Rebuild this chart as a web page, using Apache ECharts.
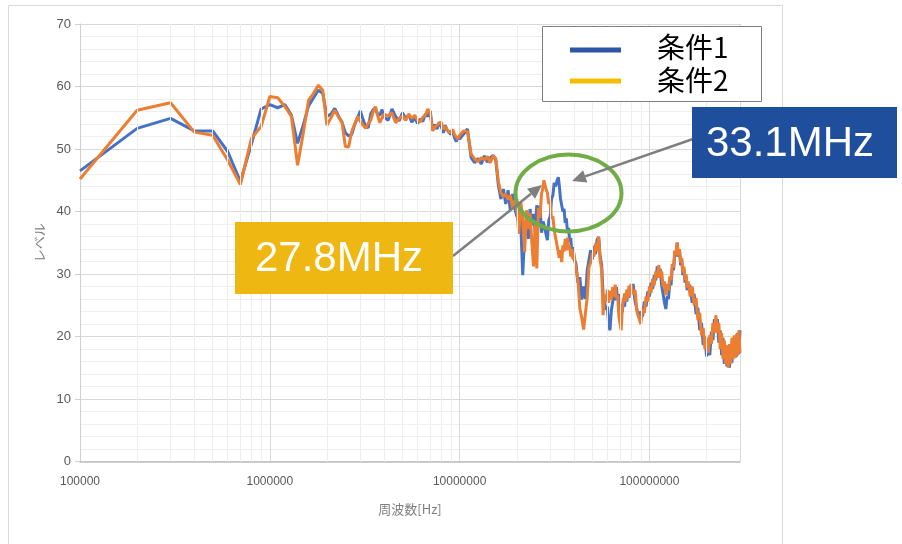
<!DOCTYPE html>
<html>
<head>
<meta charset="utf-8">
<script src="https://cdn.jsdelivr.net/npm/echarts@6/dist/echarts.min.js"></script>
<style>
  html, body { margin: 0; padding: 0; background: #ffffff; }
  #chart { width: 902px; height: 544px; }
</style>
</head>
<body>
<div id="chart"></div>
<script>
// Measurement frequencies in MHz (shared by both conditions)
const freqMHz = [
  0.1, 0.2, 0.3, 0.4, 0.5, 0.6, 0.7, 0.8, 0.9, 1.0, 1.1, 1.2, 1.3, 1.4,
  1.5, 1.6, 1.7, 1.8, 1.9, 2.0, 2.1, 2.2, 2.3, 2.4, 2.5, 2.6, 2.7, 2.8, 2.9, 3.0,
  3.1, 3.2, 3.3, 3.4, 3.5, 3.6, 3.7, 3.8, 3.9, 4.0,
  4.2, 4.4, 4.6, 4.8, 5.0, 5.2, 5.4, 5.6, 5.8, 6.0, 6.2, 6.4, 6.6, 6.8, 7.0,
  7.2, 7.4, 7.6, 7.8, 8.0, 8.2, 8.4, 8.6, 8.8, 9.0, 9.2, 9.4, 9.6, 9.8, 10,
  10.5, 11, 11.5, 12, 12.5, 13, 13.5, 14, 14.5, 15, 15.5, 16, 16.5, 17, 17.5,
  18, 18.5, 19, 19.5, 20,
  20.5, 21, 21.5, 22, 22.5, 23, 23.5, 24, 24.5, 25, 25.5, 26, 26.5, 27, 27.5,
  27.8, 28.5, 29, 29.5, 30, 30.5, 31, 31.5, 32, 32.5, 33.1, 33.5, 34, 34.5, 35,
  35.5, 36, 36.5, 37, 37.5, 38, 38.5, 39, 39.5, 40,
  41, 42, 43, 44, 45, 46, 47, 48, 49, 50, 51, 52, 53, 54, 55, 56, 57, 58, 59, 60,
  61, 62, 63, 64, 65, 66, 67, 68, 69, 70, 71, 72, 73, 74, 75, 76, 77, 78, 79, 80,
  82, 84, 86, 88, 90, 92, 94, 96, 98, 100, 102, 104, 106, 108, 110, 112, 114, 116, 118, 120,
  122, 124, 126, 128, 130, 132, 134, 136, 138, 140, 142, 144, 146, 148, 150, 152, 154, 156, 158, 160,
  164, 168, 172, 176, 180, 184, 188, 192, 196, 200, 204, 208, 212, 216, 220, 224, 228, 232, 236, 240,
  244, 248, 252, 256, 260, 264, 268, 272, 276, 280, 284, 288, 292, 296, 300
];

// 条件1 levels
const cond1 = [
  46.5, 53.3, 54.9, 52.9, 52.9, 49.6, 44.8, 50.8, 56.4, 57.1, 56.6, 57.1, 55.4, 50.9,
  53.8, 56.9, 58.2, 59.4, 58.9, 55.2, 55.6, 56.5, 55.3, 54.3, 52.6, 52.1, 52.3, 53.9, 55.0, 56.1,
  54.7, 53.6, 53.4, 55.6, 56.3, 56.5, 55.6, 55.4, 56.3, 55.1,
  54.6, 56.4, 55.2, 54.5, 55.8, 54.9, 55.5, 54.3, 55.0, 54.1, 54.8, 54.4, 55.6, 55.2, 56.1,
  53.1, 53.9, 53.2, 54.3, 53.6, 52.6, 53.8, 53.0, 52.8, 52.3, 52.9, 51.8, 51.2, 52.0, 51.6,
  52.4, 53.2, 48.6, 47.8, 48.5, 47.6, 48.9, 47.9, 48.6, 49.0, 48.2, 44.2, 42.0, 43.6, 41.2,
  43.4, 40.2, 42.8, 40.6, 39.2,
  40.5, 38.0, 29.8, 36.2, 38.4, 35.6, 40.4, 37.8, 39.6, 36.8, 41.0, 38.2, 40.9, 36.6, 38.4,
  38.0, 36.4, 35.4, 38.6, 39.2, 42.0, 42.6, 44.6, 44.0, 44.8, 45.5, 44.2, 42.0, 41.8, 40.0,
  40.4, 38.2, 38.9, 36.6, 37.4, 35.2, 35.8, 33.4, 34.3, 32.4,
  31.7, 28.6, 29.5, 25.9, 28.0, 26.0, 30.6, 30.7, 33.8, 32.3, 34.5, 33.2, 35.5, 35.9, 32.8, 31.5, 26.7, 26.7, 24.3, 24.8,
  21.8, 21.0, 24.2, 24.1, 26.7, 25.8, 27.9, 25.9, 26.8, 24.2, 25.1, 23.9, 26.1, 24.8, 26.9, 25.6, 27.5, 26.2, 28.1, 26.9,
  28.4, 25.6, 25.8, 23.0, 24.0, 23.2, 25.6, 24.8, 27.2, 26.4, 28.6, 27.6, 29.8, 29.0, 31.2, 30.0, 30.8, 28.2, 28.4, 25.4,
  24.4, 26.4, 26.0, 28.6, 28.2, 31.0, 30.6, 33.4, 32.8, 35.0, 32.8, 33.8, 31.4, 32.2, 29.8, 30.8, 28.6, 29.6, 27.4, 28.4,
  28.0, 25.4, 26.8, 23.6, 24.6, 21.0, 22.2, 18.6, 20.0, 16.8, 18.8, 17.0, 20.8, 19.4, 22.8, 21.0, 22.8, 19.0, 21.0, 17.0,
  19.8, 15.6, 18.6, 15.2, 17.8, 15.0, 18.8, 15.8, 19.8, 16.6, 19.8, 16.8, 20.6, 17.2, 21.0
];

// 条件2 levels
const cond2 = [
  45.2, 56.2, 57.4, 52.7, 52.2, 48.2, 44.3, 51.7, 53.6, 58.4, 58.2, 56.8, 55.2, 47.4,
  52.5, 57.8, 58.9, 60.2, 59.4, 53.8, 55.0, 56.2, 55.1, 54.3, 50.4, 50.3, 52.8, 54.0, 55.2, 54.4,
  53.8, 53.3, 54.1, 54.6, 55.9, 56.8, 55.3, 54.2, 55.0, 55.6,
  55.3, 55.8, 54.2, 54.9, 55.3, 54.6, 55.6, 54.9, 55.4, 54.6, 54.3, 55.1, 55.4, 56.4, 55.8,
  52.9, 53.5, 53.8, 54.1, 54.3, 53.2, 53.6, 53.9, 52.6, 52.9, 53.1, 52.3, 52.0, 51.6, 52.2,
  52.9, 52.8, 49.2, 48.4, 48.0, 48.6, 48.3, 48.8, 47.8, 48.9, 48.5, 44.8, 43.0, 42.4, 42.8,
  41.9, 42.6, 40.6, 41.8, 40.4,
  36.4, 41.5, 39.0, 33.5, 40.2, 37.2, 39.8, 35.2, 31.2, 38.4, 30.9, 40.6, 39.0, 42.8, 43.9,
  45.0, 43.6, 43.0, 41.2, 41.6, 38.8, 39.2, 37.0, 37.2, 34.8, 35.0, 32.6, 33.8, 31.9, 34.6,
  33.6, 35.6, 33.8, 35.8, 33.9, 34.6, 32.8, 34.0, 32.4, 33.4,
  30.8, 29.0, 24.5, 23.0, 21.1, 23.7, 26.2, 31.1, 31.8, 33.3, 32.8, 34.9, 33.7, 36.0, 32.2, 30.7, 23.4, 26.7, 25.5, 27.5,
  25.4, 27.3, 25.9, 27.9, 26.4, 28.3, 26.1, 26.6, 23.2, 23.4, 21.0, 24.6, 24.5, 26.9, 25.6, 27.5, 26.2, 28.1, 26.5, 28.4,
  26.8, 27.4, 24.0, 24.2, 22.0, 24.4, 23.8, 26.4, 25.6, 28.0, 27.0, 29.2, 28.2, 30.4, 29.4, 31.4, 29.4, 30.4, 28.0, 28.8,
  26.6, 28.4, 27.4, 29.6, 29.0, 31.6, 31.0, 33.8, 33.0, 35.0, 33.0, 34.0, 31.8, 32.6, 30.2, 31.2, 29.0, 30.0, 27.8, 28.8,
  26.4, 28.0, 25.0, 26.2, 22.6, 23.8, 20.2, 21.4, 18.0, 19.8, 17.4, 20.2, 18.8, 22.2, 20.6, 23.4, 20.6, 22.2, 18.0, 20.6,
  16.4, 19.4, 15.6, 18.6, 15.0, 18.8, 15.6, 19.8, 16.4, 20.2, 16.6, 20.4, 17.0, 21.0, 17.4
];

const seriesNames = ['条件1', '条件2'];
const xMinHz = 1e5;
const xMaxHz = 3e8;
// Minor gridlines of the logarithmic frequency axis (2..9 per decade)
const minorGridHz = [
  2e5, 3e5, 4e5, 5e5, 6e5, 7e5, 8e5, 9e5,
  2e6, 3e6, 4e6, 5e6, 6e6, 7e6, 8e6, 9e6,
  2e7, 3e7, 4e7, 5e7, 6e7, 7e7, 8e7, 9e7,
  2e8
];
const yTicks = { min: 0, max: 70, step: 10 };

const toPairs = (levels) => freqMHz.map((f, i) => [f * 1e6, levels[i]]);

const chart = echarts.init(document.getElementById('chart'), null, { renderer: 'canvas' });

// Arrow: shaft plus filled triangular head
function arrow(x1, y1, x2, y2, color) {
  const len = 14, half = 6.5;
  const dx = x2 - x1, dy = y2 - y1;
  const d = Math.sqrt(dx * dx + dy * dy);
  const ux = dx / d, uy = dy / d;
  const bx = x2 - ux * len, by = y2 - uy * len;
  return [
    { type: 'line', silent: true, z: 20,
      shape: { x1: x1, y1: y1, x2: bx, y2: by },
      style: { stroke: color, lineWidth: 2.5 } },
    { type: 'polygon', silent: true, z: 20,
      shape: { points: [[x2, y2], [bx - uy * half, by + ux * half], [bx + uy * half, by - ux * half]] },
      style: { fill: color } }
  ];
}

const labelFont = '"Liberation Sans", Arial, sans-serif';
const cjkFont = '"Noto Sans CJK JP", "Noto Sans", sans-serif';

chart.setOption({
  animation: false,
  backgroundColor: '#ffffff',
  grid: { left: 80, right: 162, top: 24, bottom: 82.5, containLabel: false },
  xAxis: {
    type: 'log',
    logBase: 10,
    min: xMinHz,
    max: xMaxHz,
    name: '周波数[Hz]',
    nameLocation: 'middle',
    nameGap: 41,
    nameTextStyle: { color: '#7f7f7f', fontSize: 13, fontFamily: cjkFont },
    axisLine: { show: true, lineStyle: { color: '#bfbfbf', width: 1.5 } },
    axisTick: { show: false },
    axisLabel: {
      color: '#595959', fontSize: 12, fontFamily: labelFont, margin: 14,
      formatter: (v) => {
        const e = Math.log10(v);
        return Math.abs(e - Math.round(e)) < 1e-6 ? String(Math.round(v)) : '';
      }
    },
    splitLine: { show: true, lineStyle: { color: '#d9d9d9', width: 1 } }
  },
  yAxis: {
    type: 'value',
    min: yTicks.min,
    max: yTicks.max,
    interval: yTicks.step,
    name: 'レベル',
    nameLocation: 'middle',
    nameGap: 33,
    nameRotate: 90,
    nameTextStyle: { color: '#7f7f7f', fontSize: 13, fontFamily: cjkFont },
    axisLine: { show: true, lineStyle: { color: '#d0d0d0', width: 1 } },
    axisTick: { show: true, inside: false, length: 5, lineStyle: { color: '#d0d0d0' } },
    axisLabel: { color: '#595959', fontSize: 13, fontFamily: labelFont, margin: 9 },
    splitLine: { show: true, lineStyle: { color: '#d9d9d9', width: 1 } },
    minorTick: { show: false, splitNumber: 5 },
    minorSplitLine: { show: true, lineStyle: { color: '#efefef', width: 1 } }
  },
  series: [
    {
      name: 'minor-grid',
      type: 'line',
      data: [],
      silent: true,
      z: 1,
      markLine: {
        silent: true,
        symbol: 'none',
        label: { show: false },
        lineStyle: { color: '#ededed', width: 1, type: 'solid' },
        emphasis: { disabled: true },
        data: minorGridHz.map((v) => ({ xAxis: v }))
      }
    },
    {
      name: seriesNames[0],
      type: 'line',
      data: toPairs(cond1),
      showSymbol: false,
      symbol: 'none',
      z: 3,
      lineStyle: { color: '#4472C4', width: 3 },
      itemStyle: { color: '#4472C4' }
    },
    {
      name: seriesNames[1],
      type: 'line',
      data: toPairs(cond2),
      showSymbol: false,
      symbol: 'none',
      z: 4,
      lineStyle: { color: '#ED7D31', width: 3 },
      itemStyle: { color: '#ED7D31' }
    }
  ],
  graphic: [
    // chart frame
    { type: 'rect', silent: true, z: -10,
      shape: { x: 8.5, y: 5.5, width: 774, height: 580 },
      style: { fill: 'none', stroke: '#d9d9d9', lineWidth: 1 } },
    // legend
    { type: 'rect', silent: true, z: 20,
      shape: { x: 542.5, y: 26.5, width: 219, height: 75 },
      style: { fill: '#ffffff', stroke: '#808080', lineWidth: 1 } },
    { type: 'line', silent: true, z: 21,
      shape: { x1: 570, y1: 50, x2: 621, y2: 50 },
      style: { stroke: '#2D56A6', lineWidth: 5 } },
    { type: 'line', silent: true, z: 21,
      shape: { x1: 570, y1: 81, x2: 621, y2: 81 },
      style: { stroke: '#F4BE00', lineWidth: 5 } },
    { type: 'text', silent: true, z: 21, x: 657, y: 47,
      style: { text: seriesNames[0], fill: '#000000', font: '28px ' + cjkFont, verticalAlign: 'middle', align: 'left' } },
    { type: 'text', silent: true, z: 21, x: 657, y: 80,
      style: { text: seriesNames[1], fill: '#000000', font: '28px ' + cjkFont, verticalAlign: 'middle', align: 'left' } },
    // highlight ellipse around the resonance peaks
    { type: 'ellipse', silent: true, z: 20,
      shape: { cx: 568.5, cy: 193, rx: 53, ry: 38.5 },
      style: { fill: 'none', stroke: '#70AD47', lineWidth: 4 } },
    // pointer arrows
    ...arrow(453, 256, 542, 185, '#7f7f7f'),
    ...arrow(693, 139, 572, 181, '#7f7f7f'),
    // peak annotation boxes
    { type: 'rect', silent: true, z: 22,
      shape: { x: 235, y: 222, width: 218, height: 72 },
      style: { fill: '#EEB711' } },
    { type: 'text', silent: true, z: 23, x: 339, y: 259,
      style: { text: '27.8MHz', fill: '#ffffff', font: '42px ' + labelFont, align: 'center', verticalAlign: 'middle' } },
    { type: 'rect', silent: true, z: 22,
      shape: { x: 692, y: 107, width: 205, height: 71 },
      style: { fill: '#1F4E9C' } },
    { type: 'text', silent: true, z: 23, x: 790, y: 144,
      style: { text: '33.1MHz', fill: '#ffffff', font: '42px ' + labelFont, align: 'center', verticalAlign: 'middle' } }
  ]
});
</script>
</body>
</html>
